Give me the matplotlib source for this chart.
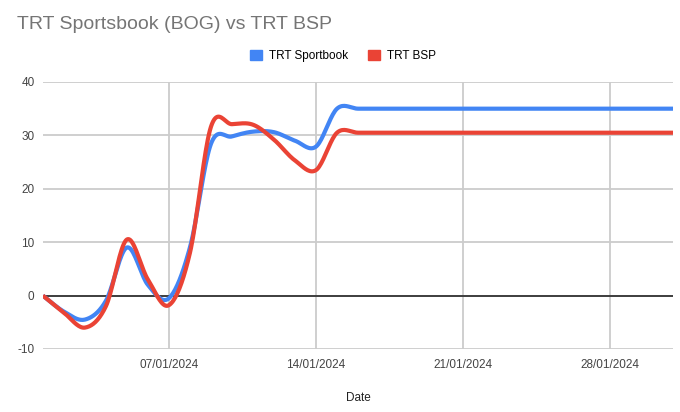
import numpy as np
import pandas as pd
import matplotlib
matplotlib.use("Agg")
import matplotlib.pyplot as plt
import matplotlib.dates as mdates
from matplotlib.patches import Patch

# daily values, 01/01/2024 - 31/01/2024
dates = pd.date_range("2024-01-01", "2024-01-31", freq="D")
sportbook = [0, -3.0, -4.5, -1.0, 9.0, 2.0, -0.5, 9.0, 28.4, 29.8, 30.7, 30.6, 29.0, 27.9,
             35.0, 35.0, 35.0, 35.0, 35.0, 35.0, 35.0, 35.0, 35.0, 35.0, 35.0, 35.0,
             35.0, 35.0, 35.0, 35.0, 35.0]
bsp = [0, -3.2, -6.0, -2.0, 10.5, 3.0, -1.8, 8.0, 31.6, 32.1, 32.0, 29.2, 25.3, 23.5,
       30.5, 30.5, 30.5, 30.5, 30.5, 30.5, 30.5, 30.5, 30.5, 30.5, 30.5, 30.5,
       30.5, 30.5, 30.5, 30.5, 30.5]
tick_dates = ["2024-01-07", "2024-01-14", "2024-01-21", "2024-01-28"]
y_ticks = [-10, 0, 10, 20, 30, 40]

BLUE = "#4285F4"
RED = "#EA4335"

plt.rcParams["font.family"] = ["Liberation Sans", "DejaVu Sans"]
plt.rcParams["axes.unicode_minus"] = False


def smooth(x, y, steps=20):
    # catmull-rom style curve through the points, like the sheets "smooth" option
    x = np.asarray(x, dtype=float)
    y = np.asarray(y, dtype=float)
    px = np.concatenate([[x[0]], x, [x[-1]]])
    py = np.concatenate([[y[0]], y, [y[-1]]])
    xs, ys = [], []
    t = np.linspace(0, 1, steps, endpoint=False)
    for i in range(1, len(px) - 2):
        for p, out in ((px, xs), (py, ys)):
            p0, p1, p2, p3 = p[i - 1], p[i], p[i + 1], p[i + 2]
            c1 = p1 + (p2 - p0) / 6
            c2 = p2 - (p3 - p1) / 6
            out.append((1 - t) ** 3 * p1 + 3 * (1 - t) ** 2 * t * c1
                       + 3 * (1 - t) * t ** 2 * c2 + t ** 3 * p2)
    xs.append([x[-1]])
    ys.append([y[-1]])
    return np.concatenate(xs), np.concatenate(ys)


fig = plt.figure(figsize=(6.8, 4.12), dpi=100)
ax = fig.add_axes([0.063, 0.153, 0.927, 0.648])

xnum = mdates.date2num(dates)
for vals, color in ((sportbook, BLUE), (bsp, RED)):
    sx, sy = smooth(xnum, vals)
    ax.plot(sx, sy, color=color, lw=3.0, solid_capstyle="butt", zorder=3)

ax.set_xlim(xnum[0], xnum[-1])
ax.set_ylim(-10, 40)
ax.set_yticks(y_ticks)
ax.set_xticks(mdates.date2num(pd.to_datetime(tick_dates)))
ax.xaxis.set_major_formatter(mdates.DateFormatter("%d/%m/%Y"))

ax.grid(True, color="#cccccc", lw=1.3, zorder=0)
ax.axhline(0, color="#333333", lw=1.3, zorder=2)
for s in ax.spines.values():
    s.set_visible(False)
ax.tick_params(length=0, labelsize=8.5, labelcolor="#444444")
ax.tick_params(axis="y", pad=6)
ax.tick_params(axis="x", pad=7)
ax.set_xlabel("Date", fontsize=8.5, color="#222222", labelpad=15)

fig.text(0.025, 0.94, "TRT Sportsbook (BOG) vs TRT BSP", fontsize=14,
         color="#757575", va="center")

handles = [Patch(color=BLUE, label="TRT Sportbook"), Patch(color=RED, label="TRT BSP")]
fig.legend(handles=handles, loc="center", bbox_to_anchor=(0.505, 0.864), ncol=2,
           frameon=False, fontsize=8.5, handlelength=1.0, handleheight=1.0,
           handletextpad=0.6, columnspacing=1.7)

fig.savefig("out.png", dpi=100)
